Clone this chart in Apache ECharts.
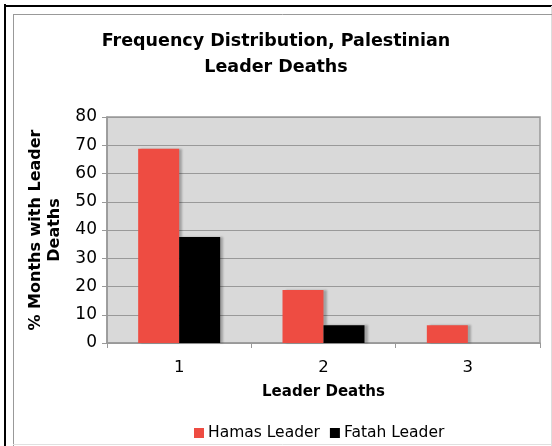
<!DOCTYPE html>
<html>
<head>
<meta charset="utf-8">
<script src="https://cdn.jsdelivr.net/npm/echarts@6/dist/echarts.min.js"></script>
<style>html,body{margin:0;padding:0;background:#fff}#c{width:552px;height:446px}</style>
</head>
<body>
<div id="c"></div>
<script>
const categories = ['1', '2', '3'];
const hamasValues = [68.75, 18.75, 6.25];
const fatahValues = [37.5, 6.25, 0];
const seriesNames = ['Hamas Leader', 'Fatah Leader'];
const titleText = 'Frequency Distribution, Palestinian\nLeader Deaths';
const yAxisTitle = '% Months with Leader\nDeaths';
const xAxisTitle = 'Leader Deaths';

const chart = echarts.init(document.getElementById('c'), null, {renderer: 'canvas'});
const font = 'DejaVu Sans, Verdana, sans-serif';
const barShadow = {shadowColor: 'rgba(0,0,0,0.25)', shadowOffsetX: 3, shadowOffsetY: 0, shadowBlur: 2};
chart.setOption({
  animation: false,
  backgroundColor: '#fff',
  textStyle: {fontFamily: font},
  title: {
    text: titleText,
    left: 'center', top: 23,
    textStyle: {fontFamily: font, fontWeight: 'bold', fontSize: 17.5, color: '#000', lineHeight: 26}
  },
  legend: {
    bottom: 0, left: 189,
    icon: 'rect', itemWidth: 10, itemHeight: 10, itemGap: 10,
    textStyle: {fontFamily: font, fontSize: 15.5, color: '#000', padding: [0, 0, 0, -1]},
    data: seriesNames
  },
  grid: {
    left: 107, top: 117, right: 12, bottom: 103,
    show: true, backgroundColor: '#d9d9d9', borderColor: '#999', borderWidth: 1.5
  },
  xAxis: {
    type: 'category', data: categories,
    name: xAxisTitle, nameLocation: 'middle', nameGap: 42,
    nameTextStyle: {fontFamily: font, fontWeight: 'bold', fontSize: 15, color: '#000'},
    axisLine: {lineStyle: {color: '#999', width: 1.5}},
    axisTick: {show: true, length: 5, lineStyle: {color: '#999'}},
    axisLabel: {fontFamily: font, fontSize: 16.5, color: '#000', margin: 16}
  },
  yAxis: {
    type: 'value', min: 0, max: 80, interval: 10,
    name: yAxisTitle, nameLocation: 'middle', nameGap: 37, nameRotate: 90,
    nameTextStyle: {fontFamily: font, fontWeight: 'bold', fontSize: 16, color: '#000', lineHeight: 19},
    axisLine: {show: true, lineStyle: {color: '#999', width: 1.5}},
    axisTick: {show: true, length: 5, lineStyle: {color: '#999'}},
    axisLabel: {fontFamily: font, fontSize: 17, color: '#000', margin: 10},
    splitLine: {lineStyle: {color: '#999', width: 1}}
  },
  series: [
    {name: seriesNames[0], type: 'bar', data: hamasValues, barWidth: 41, barGap: '0%',
     itemStyle: Object.assign({color: '#ee4c42'}, barShadow)},
    {name: seriesNames[1], type: 'bar', data: fatahValues, barWidth: 41,
     itemStyle: Object.assign({color: '#000000'}, barShadow)}
  ],
  graphic: [
    {type: 'line', shape: {x1: 5, y1: 4, x2: 5, y2: 446}, style: {stroke: '#000', lineWidth: 2}},
    {type: 'line', shape: {x1: 4, y1: 6, x2: 552, y2: 6}, style: {stroke: '#000', lineWidth: 2}},
    {type: 'line', shape: {x1: 551.5, y1: 6, x2: 551.5, y2: 446}, style: {stroke: '#ddd', lineWidth: 1}},
    {type: 'line', shape: {x1: 13.5, y1: 14, x2: 13.5, y2: 446}, style: {stroke: '#999', lineWidth: 1}},
    {type: 'line', shape: {x1: 13, y1: 14.5, x2: 552, y2: 14.5}, style: {stroke: '#999', lineWidth: 1}},
    {type: 'line', shape: {x1: 13, y1: 444.5, x2: 552, y2: 444.5}, style: {stroke: '#e0e0e0', lineWidth: 1}}
  ]
});
</script>
</body>
</html>
